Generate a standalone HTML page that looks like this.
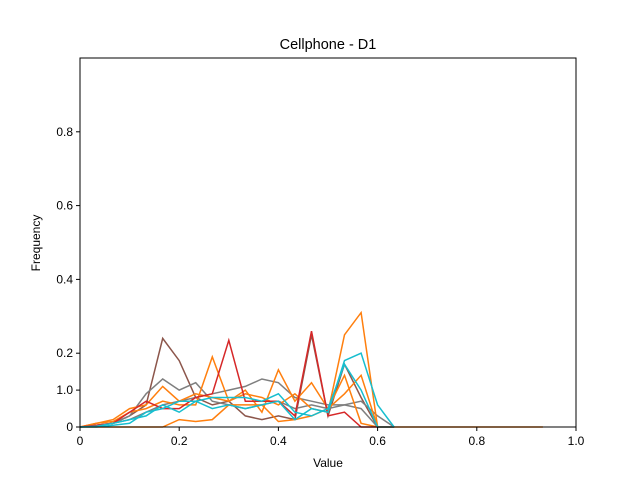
<!DOCTYPE html>
<html><head><meta charset="utf-8"><style>
html,body{margin:0;padding:0;background:#fff}
svg text{font-family:"Liberation Sans","DejaVu Sans",sans-serif;fill:#000}
</style></head><body>
<svg id="chart" width="640" height="480" xmlns="http://www.w3.org/2000/svg">
<rect x="0" y="0" width="640" height="480" fill="#fff"/>
<text x="328" y="49" font-size="14.5" text-anchor="middle">Cellphone - D1</text>
<g id="plot"></g>
<rect x="80" y="58" width="496" height="369" fill="none" stroke="#000" stroke-width="1"/>
<g id="xticks"></g>
<g id="yticks"></g>
<text x="328" y="467" font-size="12" text-anchor="middle">Value</text>
<text x="40" y="243" font-size="12" text-anchor="middle" transform="rotate(-90 40 243)">Frequency</text>
</svg>
<script>
const xTicks=[0,0.2,0.4,0.6,0.8,1.0];
const xTickLabels=["0","0.2","0.4","0.6","0.8","1.0"];
const yTicks=[0,0.1,0.2,0.4,0.6,0.8];
const yTickLabels=["0","1.0","0.2","0.4","0.6","0.8"];
const binStep=1/30;
const colors=["#8c564b","#7f7f7f","#7f7f7f","#ff7f0e","#ff7f0e","#ff7f0e","#d62728","#17becf","#17becf"];
const s0=[0,0.005,0.01,0.03,0.06,0.24,0.18,0.08,0.06,0.07,0.03,0.02,0.03,0.02,0.25,0.03,0.17,0.08,0,0];
const s1=[0,0.003,0.01,0.03,0.09,0.13,0.1,0.12,0.07,0.06,0.05,0.06,0.07,0.05,0.06,0.05,0.06,0.05,0,0];
const s2=[0,0.005,0.01,0.02,0.04,0.06,0.07,0.08,0.09,0.1,0.11,0.13,0.12,0.08,0.07,0.06,0.06,0.07,0.03,0];
const s3=[0,0.01,0.02,0.05,0.06,0.11,0.07,0.09,0.08,0.07,0.09,0.08,0.06,0.09,0.05,0.04,0.25,0.31,0,0];
const s4=[0,0.01,0.015,0.04,0.05,0.07,0.06,0.06,0.19,0.07,0.1,0.04,0.155,0.07,0.12,0.05,0.14,0.01,0,0];
const s5=[0,0,0,0,0,0,0.02,0.015,0.02,0.06,0.06,0.06,0.015,0.02,0.03,0.05,0.09,0.14,0,0,0,0,0,0,0,0,0,0,0];
const s6=[0,0.005,0.01,0.04,0.07,0.05,0.05,0.08,0.09,0.235,0.07,0.07,0.07,0.03,0.26,0.03,0.04,0,0,0];
const s7=[0,0.002,0.01,0.02,0.03,0.06,0.04,0.07,0.05,0.06,0.05,0.06,0.07,0.02,0.05,0.04,0.18,0.2,0.06,0];
const s8=[0,0,0.005,0.01,0.04,0.05,0.07,0.07,0.08,0.08,0.08,0.07,0.09,0.04,0.03,0.05,0.17,0.1,0,0];
const series=[s0,s1,s2,s3,s4,s5,s6,s7,s8];
const NS="http://www.w3.org/2000/svg";
const X0=80,X1=576,Y0=427,Y1=58;
function xs(v){return X0+v*(X1-X0);}
function ys(v){return Y0-v*(Y0-Y1);}
const plot=document.getElementById('plot');
series.forEach((s,k)=>{
  const p=document.createElementNS(NS,'polyline');
  
  
  p.setAttribute('points',s.map((v,i)=>xs(i*binStep).toFixed(1)+','+ys(v).toFixed(1)).join(' '));
  p.setAttribute('fill','none');
  p.setAttribute('stroke',colors[k]);
  p.setAttribute('stroke-width','1.5');
  plot.appendChild(p);
});
const xg=document.getElementById('xticks');
xTicks.forEach((t,i)=>{
  const l=document.createElementNS(NS,'line');
  
  
  l.setAttribute('x1',xs(t));l.setAttribute('x2',xs(t));l.setAttribute('y1',Y0);l.setAttribute('y2',Y0+4);
  l.setAttribute('stroke','#000');
  xg.appendChild(l);
  const tx=document.createElementNS(NS,'text');
  
  
  tx.setAttribute('x',xs(t));tx.setAttribute('y',Y0+18);
  tx.setAttribute('font-size','12');tx.setAttribute('text-anchor','middle');
  tx.textContent=xTickLabels[i];
  xg.appendChild(tx);
});
const yg=document.getElementById('yticks');
yTicks.forEach((t,i)=>{
  const l=document.createElementNS(NS,'line');
  
  
  l.setAttribute('x1',X0-4);l.setAttribute('x2',X0);l.setAttribute('y1',ys(t));l.setAttribute('y2',ys(t));
  l.setAttribute('stroke','#000');
  yg.appendChild(l);
  const tx=document.createElementNS(NS,'text');
  
  
  tx.setAttribute('x',X0-7);tx.setAttribute('y',ys(t)+4);
  tx.setAttribute('font-size','12');tx.setAttribute('text-anchor','end');
  tx.textContent=yTickLabels[i];
  yg.appendChild(tx);
});
</script>
</body></html>
